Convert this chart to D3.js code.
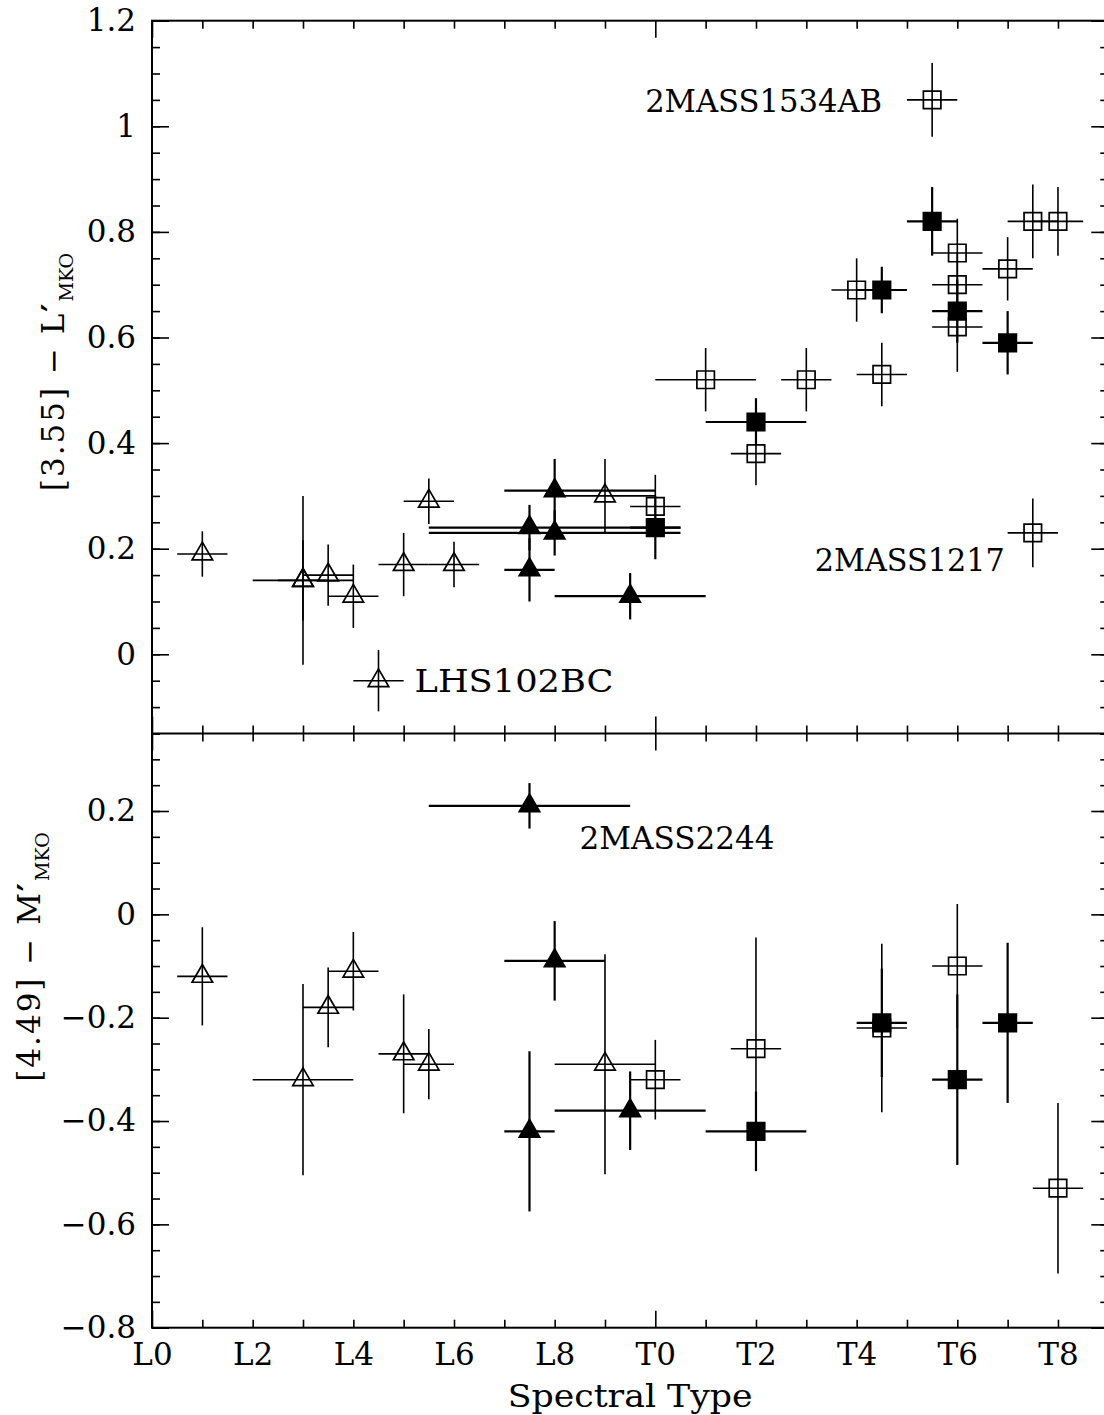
<!DOCTYPE html>
<html>
<head>
<meta charset="utf-8">
<script src="https://cdn.jsdelivr.net/npm/d3@7"></script>
<style>
  body { margin: 0; background: #fff; }
  text { font-family: "DejaVu Serif", serif; fill: #000; }
</style>
</head>
<body>
<svg id="chart" width="1104" height="1415"></svg>
<script>
// Spectral type is numeric: L0 = 0 ... L9 = 9, T0 = 10 ... T8 = 18.
const spectralTickValues = [0, 2, 4, 6, 8, 10, 12, 14, 16, 18];
const spectralTickLabels = ["L0", "L2", "L4", "L6", "L8", "T0", "T2", "T4", "T6", "T8"];
const topTickValues = [0, 0.2, 0.4, 0.6, 0.8, 1.0, 1.2];
const bottomTickValues = [-0.8, -0.6, -0.4, -0.2, 0, 0.2];

// [3.55] - L'(MKO): sp = spectral type, v = colour, lo/hi = spectral range, e = colour error
const topOpenTriangles = [
  { sp: 1,   v: 0.19,  lo: 0.5, hi: 1.5, e: 0.043 },
  { sp: 3,   v: 0.14,  lo: 2,   hi: 4,   e: 0.16 },
  { sp: 3,   v: 0.14,  lo: 2.5, hi: 3.5, e: 0.076 },
  { sp: 3.5, v: 0.15,  lo: 3,   hi: 4,   e: 0.058 },
  { sp: 4,   v: 0.11,  lo: 3.5, hi: 4.5, e: 0.06 },
  { sp: 4.5, v: -0.05, lo: 4,   hi: 5,   e: 0.058 },
  { sp: 5,   v: 0.17,  lo: 4.5, hi: 5.5, e: 0.06 },
  { sp: 5.5, v: 0.29,  lo: 5,   hi: 6,   e: 0.043 },
  { sp: 6,   v: 0.17,  lo: 5.5, hi: 6.5, e: 0.043 },
  { sp: 9,   v: 0.30,  lo: 8,   hi: 10,  e: 0.07 }
];
const topFilledTriangles = [
  { sp: 7.5, v: 0.24, lo: 5.5, hi: 10.5, e: 0.043 },
  { sp: 7.5, v: 0.16, lo: 7,   hi: 8,    e: 0.06 },
  { sp: 8,   v: 0.31, lo: 7,   hi: 10,   e: 0.06 },
  { sp: 8,   v: 0.23, lo: 5.5, hi: 10.5, e: 0.043 },
  { sp: 9.5, v: 0.11, lo: 8,   hi: 11,   e: 0.044 }
];
const topOpenSquares = [
  { sp: 10,   v: 0.28, lo: 9.5,  hi: 10.5, e: 0.06 },
  { sp: 11,   v: 0.52, lo: 10,   hi: 12,   e: 0.06 },
  { sp: 12,   v: 0.38, lo: 11.5, hi: 12.5, e: 0.06 },
  { sp: 13,   v: 0.52, lo: 12.5, hi: 13.5, e: 0.06 },
  { sp: 14,   v: 0.69, lo: 13.5, hi: 14.5, e: 0.06 },
  { sp: 14.5, v: 0.53, lo: 14,   hi: 15,   e: 0.06 },
  { sp: 15.5, v: 1.05, lo: 15,   hi: 16,   e: 0.07 },
  { sp: 16,   v: 0.76, lo: 15.5, hi: 16.5, e: 0.065 },
  { sp: 16,   v: 0.70, lo: 15.5, hi: 16.5, e: 0.06 },
  { sp: 16,   v: 0.62, lo: 15.5, hi: 16.5, e: 0.085 },
  { sp: 17,   v: 0.73, lo: 16.5, hi: 17.5, e: 0.06 },
  { sp: 17.5, v: 0.82, lo: 17,   hi: 18,   e: 0.07 },
  { sp: 18,   v: 0.82, lo: 17.5, hi: 18.5, e: 0.065 },
  { sp: 17.5, v: 0.23, lo: 17,   hi: 18,   e: 0.065 }
];
const topFilledSquares = [
  { sp: 10,   v: 0.24, lo: 9.5,  hi: 10.5, e: 0.06 },
  { sp: 12,   v: 0.44, lo: 11,   hi: 13,   e: 0.045 },
  { sp: 14.5, v: 0.69, lo: 14,   hi: 15,   e: 0.044 },
  { sp: 15.5, v: 0.82, lo: 15,   hi: 16,   e: 0.065 },
  { sp: 16,   v: 0.65, lo: 15.5, hi: 16.5, e: 0.06 },
  { sp: 17,   v: 0.59, lo: 16.5, hi: 17.5, e: 0.06 }
];

// [4.49] - M'(MKO)
const bottomOpenTriangles = [
  { sp: 1,   v: -0.12, lo: 0.5, hi: 1.5, e: 0.095 },
  { sp: 3,   v: -0.32, lo: 2,   hi: 4,   e: 0.185 },
  { sp: 3.5, v: -0.18, lo: 3,   hi: 4,   e: 0.077 },
  { sp: 4,   v: -0.11, lo: 3.5, hi: 4.5, e: 0.076 },
  { sp: 5,   v: -0.27, lo: 4.5, hi: 5.5, e: 0.115 },
  { sp: 5.5, v: -0.29, lo: 5,   hi: 6,   e: 0.068 },
  { sp: 9,   v: -0.29, lo: 8,   hi: 10,  e: 0.213 }
];
const bottomFilledTriangles = [
  { sp: 7.5, v: 0.21,  lo: 5.5, hi: 9.5, e: 0.044 },
  { sp: 8,   v: -0.09, lo: 7,   hi: 9,   e: 0.077 },
  { sp: 7.5, v: -0.42, lo: 7,   hi: 8,   e: 0.155 },
  { sp: 9.5, v: -0.38, lo: 8,   hi: 11,  e: 0.076 }
];
const bottomOpenSquares = [
  { sp: 10,   v: -0.32, lo: 9.5,  hi: 10.5, e: 0.077 },
  { sp: 12,   v: -0.26, lo: 11.5, hi: 12.5, e: 0.215 },
  { sp: 14.5, v: -0.22, lo: 14,   hi: 15,   e: 0.163 },
  { sp: 16,   v: -0.10, lo: 15.5, hi: 16.5, e: 0.12 },
  { sp: 18,   v: -0.53, lo: 17.5, hi: 18.5, e: 0.165 }
];
const bottomFilledSquares = [
  { sp: 12,   v: -0.42, lo: 11,   hi: 13,   e: 0.077 },
  { sp: 14.5, v: -0.21, lo: 14,   hi: 15,   e: 0.105 },
  { sp: 16,   v: -0.32, lo: 15.5, hi: 16.5, e: 0.165 },
  { sp: 17,   v: -0.21, lo: 16.5, hi: 17.5, e: 0.155 }
];

// Named objects
const topNames = [
  { text: "2MASS1534AB", sp: 15.5, v: 1.05 },
  { text: "2MASS1217",   sp: 17.5, v: 0.23 },
  { text: "LHS102BC",    sp: 4.5,  v: -0.05 }
];
const bottomNames = [
  { text: "2MASS2244", sp: 7.5, v: 0.21 }
];

// ---- layout ----
const plotLeft = 152, plotRight = 1108.3;
const plotTop = 20.7, plotMid = 733.5, plotBottom = 1327.7;
const fontSize = 31;
const nameLayout = {
  "2MASS1534AB": { dx: -50, dy: 12, anchor: "end",   width: 237 },
  "2MASS1217":   { dx: -28, dy: 38, anchor: "end",   width: 190 },
  "LHS102BC":    { dx: 36,  dy: 11, anchor: "start", width: 199 },
  "2MASS2244":   { dx: 50,  dy: 43, anchor: "start", width: 195 }
};

const svg = d3.select("#chart");
const x = d3.scaleLinear().domain([0, 19]).range([plotLeft, plotRight]);
const yTop = d3.scaleLinear().domain([-0.15, 1.2]).range([plotMid, plotTop]);
const yBot = d3.scaleLinear().domain([-0.8, 0.35]).range([plotBottom, plotMid]);

const fmt = d => d3.format("~g")(d);
const spectralMinor = d3.range(0, 20, 1);
const spectralMajor = [0, 10];

function styleAxis(g) {
  g.select(".domain").remove();
  g.selectAll(".tick line").attr("stroke", "#000").attr("stroke-width", 1.6);
  g.selectAll(".tick text").style("font-size", fontSize + "px").attr("fill", "#000");
}

// vertical axes for one panel
function yAxes(y, majors, lo, hi) {
  const minors = d3.range(Math.round(lo * 20), Math.round(hi * 20) + 1).map(k => k / 20);
  svg.append("g").attr("transform", `translate(${plotLeft},0)`)
    .call(d3.axisLeft(y).tickValues(minors).tickSize(-8).tickFormat("")).call(styleAxis);
  svg.append("g").attr("transform", `translate(${plotLeft},0)`)
    .call(d3.axisLeft(y).tickValues(majors).tickSize(-17).tickPadding(16).tickFormat(fmt)).call(styleAxis);
  svg.append("g").attr("transform", `translate(${plotRight},0)`)
    .call(d3.axisRight(y).tickValues(minors).tickSize(-8).tickFormat("")).call(styleAxis);
  svg.append("g").attr("transform", `translate(${plotRight},0)`)
    .call(d3.axisRight(y).tickValues(majors).tickSize(-17).tickFormat("")).call(styleAxis);
}
yAxes(yTop, topTickValues, -0.15, 1.2);
yAxes(yBot, bottomTickValues, -0.8, 0.35);

// horizontal axes: top edge, shared middle edge, bottom edge
function xTicks(yPos, maker, size) {
  svg.append("g").attr("transform", `translate(0,${yPos})`)
    .call(maker(x).tickValues(spectralMinor.filter(d => !spectralMajor.includes(d))).tickSize(size).tickFormat(""))
    .call(styleAxis);
  svg.append("g").attr("transform", `translate(0,${yPos})`)
    .call(maker(x).tickValues(spectralMajor).tickSize(size * 17 / 8).tickFormat(""))
    .call(styleAxis);
}
xTicks(plotTop, d3.axisTop, -8);
xTicks(plotMid, d3.axisTop, 8);
xTicks(plotMid, d3.axisBottom, 8);
xTicks(plotBottom, d3.axisBottom, -8);
svg.append("g").attr("transform", `translate(0,${plotBottom})`)
  .call(d3.axisBottom(x).tickValues(spectralTickValues).tickSize(0).tickPadding(15)
    .tickFormat((d, i) => spectralTickLabels[i]))
  .call(styleAxis);

// frame
const frame = svg.append("g").attr("stroke", "#000").attr("stroke-width", 2).attr("fill", "none");
frame.append("rect").attr("x", plotLeft).attr("y", plotTop)
  .attr("width", plotRight - plotLeft).attr("height", plotBottom - plotTop);
frame.append("line").attr("x1", plotLeft).attr("x2", plotRight).attr("y1", plotMid).attr("y2", plotMid);

// data marks
const triangle = d3.symbol(d3.symbolTriangle, 182);
const square = d3.symbol(d3.symbolSquare, 17.5 * 17.5);

function drawErrors(data, y, width) {
  const g = svg.append("g").attr("stroke", "#000").attr("stroke-width", width);
  g.selectAll(null).data(data).join("line")
    .attr("x1", d => x(d.lo)).attr("x2", d => x(d.hi))
    .attr("y1", d => y(d.v)).attr("y2", d => y(d.v));
  g.selectAll(null).data(data).join("line")
    .attr("x1", d => x(d.sp)).attr("x2", d => x(d.sp))
    .attr("y1", d => y(d.v - d.e)).attr("y2", d => y(d.v + d.e));
}
function drawMarkers(data, y, shape, filled) {
  svg.append("g").selectAll(null).data(data).join("path")
    .attr("d", shape)
    .attr("transform", d => `translate(${x(d.sp)},${y(d.v)})`)
    .attr("fill", filled ? "#000" : "none")
    .attr("stroke", "#000").attr("stroke-width", 1.7);
}

const panels = [
  { y: yTop, sets: [[topOpenTriangles, triangle, false], [topFilledTriangles, triangle, true],
                    [topOpenSquares, square, false], [topFilledSquares, square, true]] },
  { y: yBot, sets: [[bottomOpenTriangles, triangle, false], [bottomFilledTriangles, triangle, true],
                    [bottomOpenSquares, square, false], [bottomFilledSquares, square, true]] }
];
panels.forEach(p => {
  p.sets.forEach(([data, , filled]) => drawErrors(data, p.y, filled ? 2.2 : 1.6));
  p.sets.forEach(([data, shape, filled]) => drawMarkers(data, p.y, shape, filled));
});

// object names
function drawNames(names, y) {
  names.forEach(n => {
    const L = nameLayout[n.text];
    svg.append("text")
      .attr("x", x(n.sp) + L.dx).attr("y", y(n.v) + L.dy)
      .attr("text-anchor", L.anchor)
      .attr("textLength", L.width).attr("lengthAdjust", "spacingAndGlyphs")
      .style("font-size", fontSize + "px")
      .text(n.text);
  });
}
drawNames(topNames, yTop);
drawNames(bottomNames, yBot);

// axis titles
svg.append("text")
  .attr("x", (plotLeft + plotRight) / 2).attr("y", 1407)
  .attr("text-anchor", "middle")
  .attr("textLength", 245).attr("lengthAdjust", "spacingAndGlyphs")
  .style("font-size", fontSize + "px")
  .text("Spectral Type");

function yTitle(cx, cy, band, letter) {
  const t = svg.append("text")
    .attr("transform", `translate(${cx},${cy}) rotate(-90)`)
    .attr("text-anchor", "middle")
    .style("font-size", fontSize + "px")
    .style("letter-spacing", "2px");
  t.append("tspan").text(`[${band}]  −  ${letter}`);
  t.append("tspan").text("′").style("font-weight", "bold");
  t.append("tspan").attr("dy", 9).style("font-size", "19px").style("letter-spacing", "0px").text("MKO");
}
yTitle(64, 372, "3.55", "L");
yTitle(40, 957, "4.49", "M");
</script>
</body>
</html>
